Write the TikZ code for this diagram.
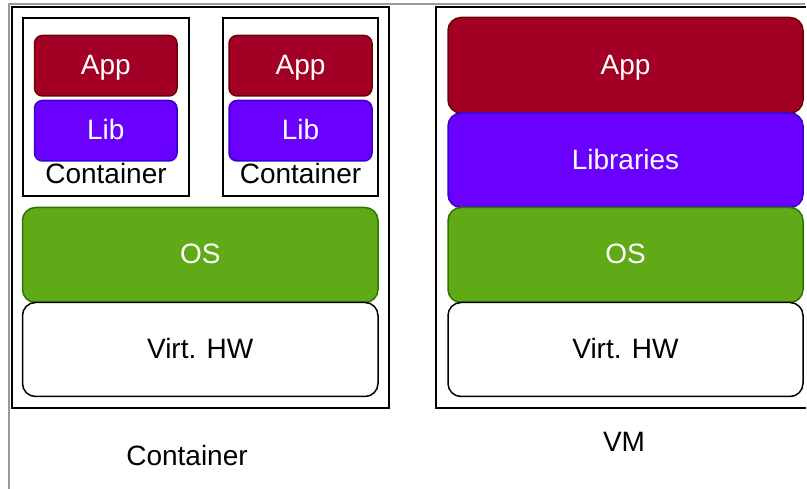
\documentclass[tikz,border=0pt]{standalone}
\usepackage{fontspec}
\setmainfont{Liberation Sans}
\definecolor{appfill}{HTML}{A20025}
\definecolor{appline}{HTML}{6F0000}
\definecolor{libfill}{HTML}{6A00FF}
\definecolor{libline}{HTML}{3700CC}
\definecolor{osfill}{HTML}{60A917}
\definecolor{osline}{HTML}{2D7600}
\definecolor{frame}{HTML}{9A9A9A}
\begin{document}
\begin{tikzpicture}[x=1pt,y=-1pt,
  every node/.style={font=\fontsize{28}{33}\selectfont, text height=22pt, text depth=4pt, inner sep=0pt},
  layer/.style={rectangle, rounded corners=#1, line width=1.5pt},
  applayer/.style={layer=#1, fill=appfill, draw=appline, text=white},
  liblayer/.style={layer=#1, fill=libfill, draw=libline, text=white},
  oslayer/.style={layer=#1, fill=osfill, draw=osline, text=white},
  hwlayer/.style={layer=#1, fill=white, draw=black, text=black},
  boxframe/.style={rectangle, draw=black, line width=2pt, fill=none},
  label/.style={text=black}
]
\useasboundingbox (0,0) rectangle (807,489);
\fill[white] (0,0) rectangle (807,489);
% screenshot frame
\coordinate (g1) at (805,4.5);
\coordinate (g2) at (9,4.5);
\coordinate (g3) at (9,489);
\draw[frame, line width=2pt] (g1) -- (g2) -- (g3);

% Container side
\node[boxframe, minimum width=377pt, minimum height=401pt] (ctouter) at (200.5,207.5) {};
\node[boxframe, minimum width=166pt, minimum height=178pt] (c1) at (106,107) {};
\node[boxframe, minimum width=155pt, minimum height=178pt] (c2) at (300.5,107) {};
\node[applayer=8pt, minimum width=142.5pt, minimum height=60.5pt] (app1) at (105.75,65.75) {App};
\node[liblayer=8pt, minimum width=142.5pt, minimum height=60.5pt] (lib1) at (105.75,130.75) {Lib};
\node[applayer=8pt, minimum width=143pt, minimum height=60.5pt] (app2) at (300.5,65.75) {App};
\node[liblayer=8pt, minimum width=143pt, minimum height=60.5pt] (lib2) at (300.5,130.75) {Lib};
\node[label] (c1lbl) at (106,175) {Container};
\node[label] (c2lbl) at (300.5,175) {Container};
\node[oslayer=13pt, minimum width=355.5pt, minimum height=95pt] (os1) at (200.25,255) {OS};
\node[hwlayer=13pt, minimum width=355.5pt, minimum height=94pt] (hw1) at (200.25,349.5) {Virt. HW};
\node[label] (ctlbl) at (187,456) {Container};

% VM side
\coordinate (v1) at (806,7);
\coordinate (v2) at (436,7);
\coordinate (v3) at (436,408);
\coordinate (v4) at (806,408);
\draw[black, line width=2pt] (v1) -- (v2) -- (v3) -- (v4);
\node[applayer=13pt, minimum width=355pt, minimum height=95.5pt] (vmapp) at (625.5,65.25) {App};
\node[liblayer=13pt, minimum width=355pt, minimum height=94.5pt] (vmlib) at (625.5,160.25) {Libraries};
\node[oslayer=13pt, minimum width=355pt, minimum height=95pt] (vmos) at (625.5,255) {OS};
\node[hwlayer=13pt, minimum width=355pt, minimum height=94pt] (vmhw) at (625.5,349.5) {Virt. HW};
\node[label] (vmlbl) at (624,443) {VM};
\end{tikzpicture}
\end{document}
